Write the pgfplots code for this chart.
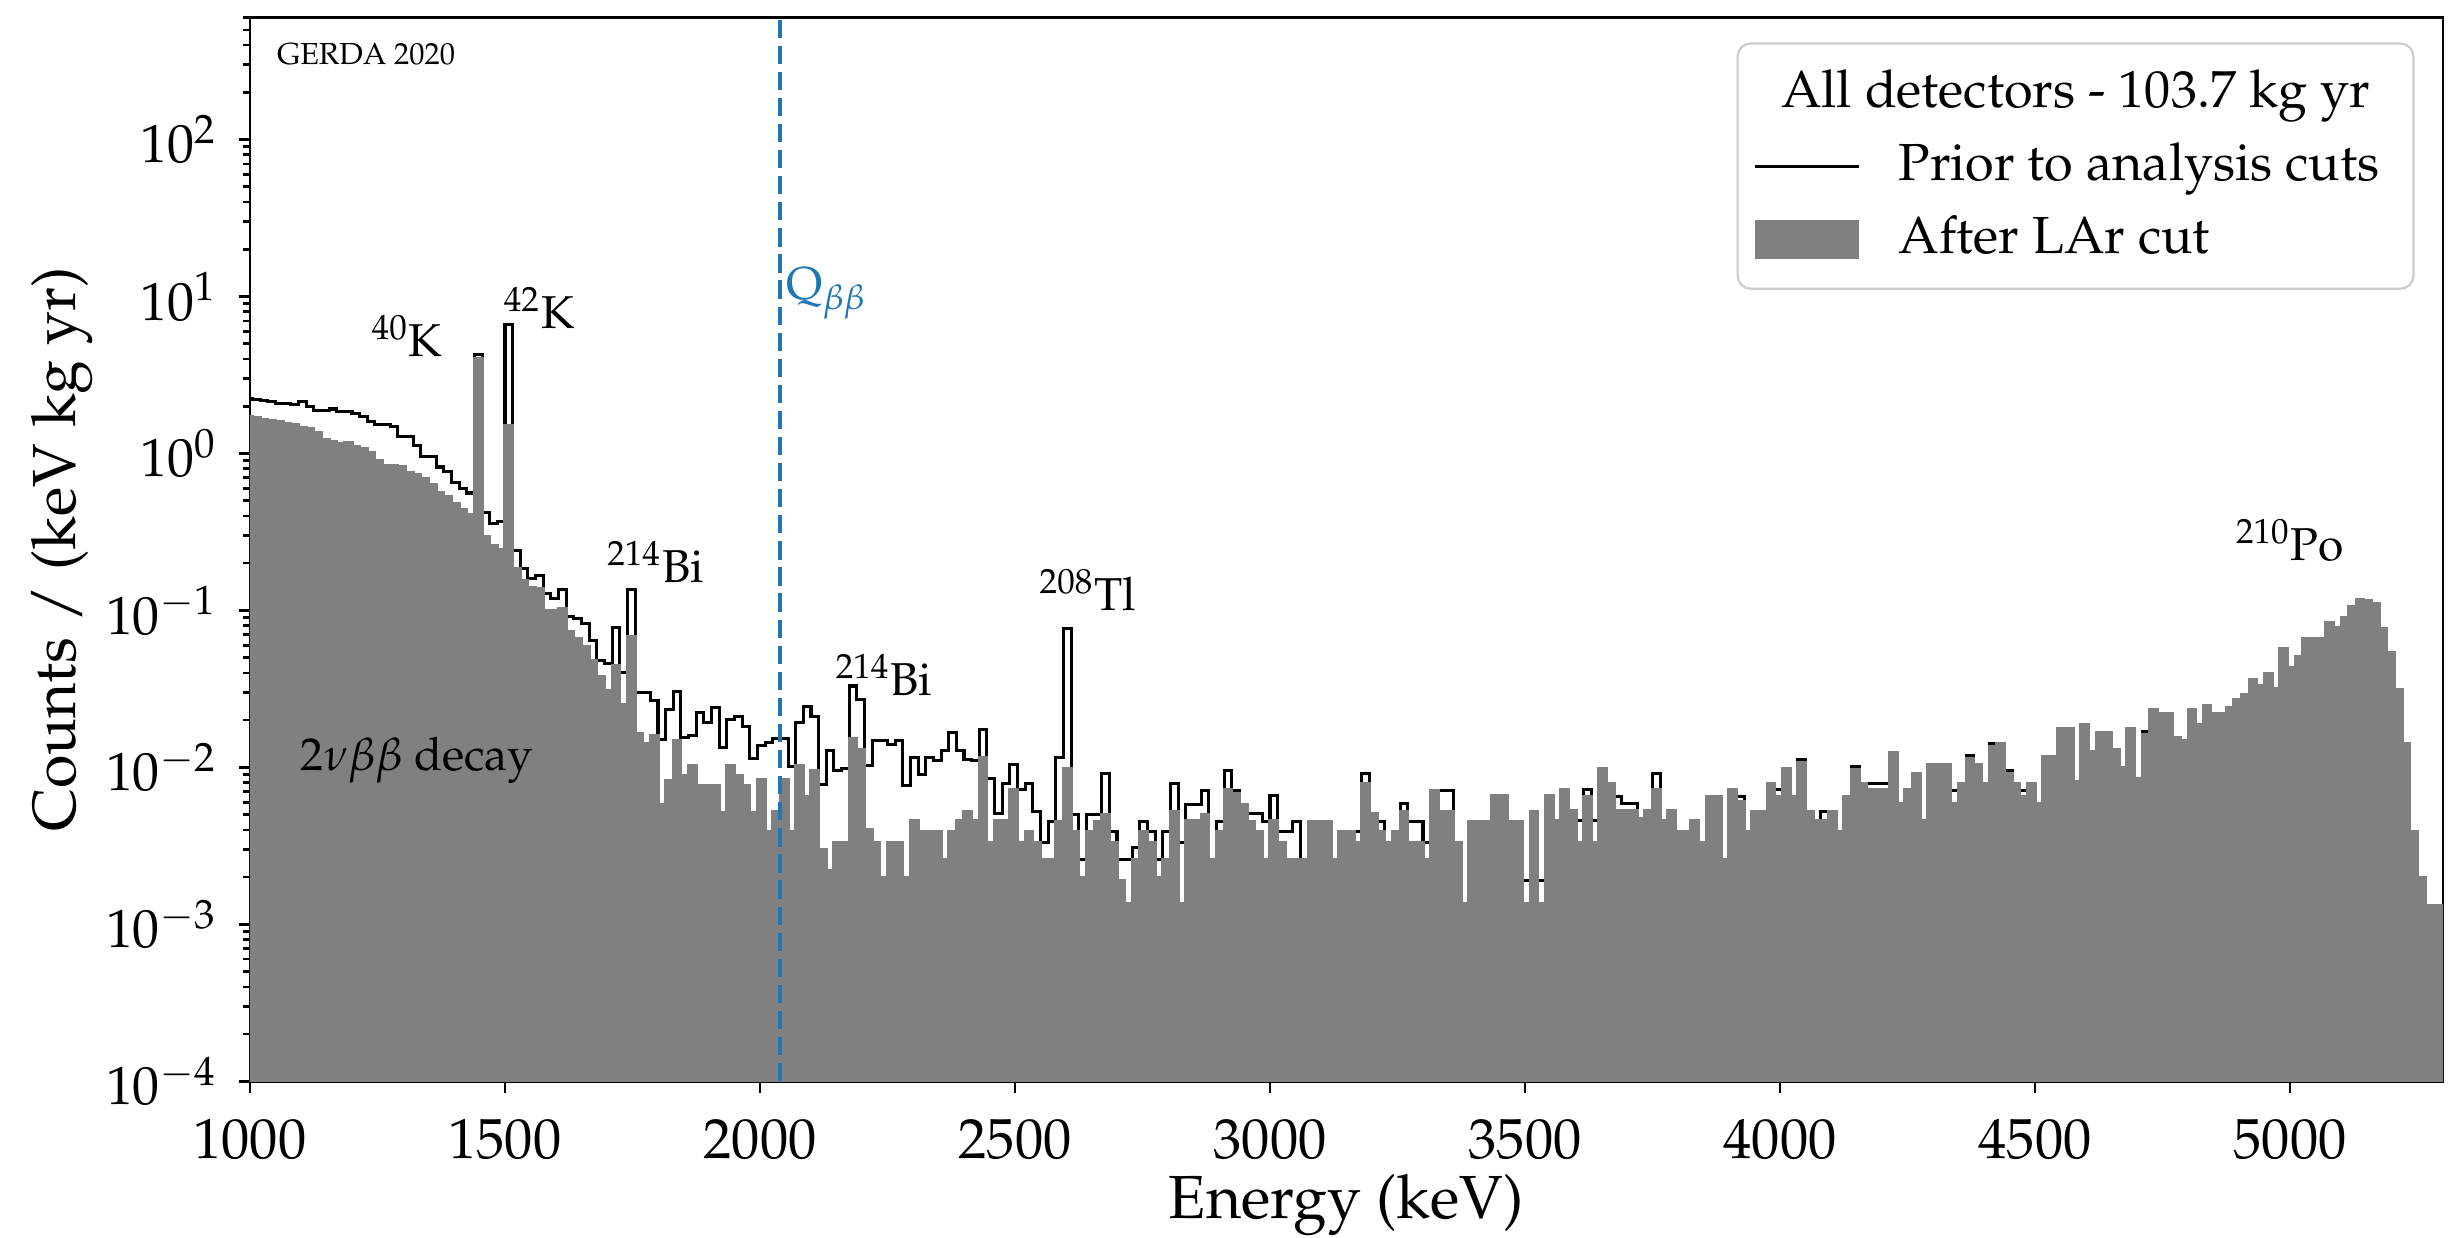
\documentclass[border=0pt]{standalone}
\usepackage[T1]{fontenc}
\usepackage{mathpazo}
\usepackage{pgfplots}
\pgfplotsset{compat=1.18}
\definecolor{qbb}{HTML}{1F77B4}
\definecolor{lar}{HTML}{808080}

% left bin edges (15 keV), counts / (keV kg yr)
\pgfplotstableread{
E B G
990 2.25 1.73
1005 2.22 1.70
1020 2.19 1.65
1035 2.14 1.62
1050 2.09 1.60
1065 2.09 1.56
1080 2.05 1.52
1095 2.14 1.46
1110 1.99 1.45
1125 1.89 1.36
1140 1.89 1.22
1155 1.92 1.19
1170 1.85 1.16
1185 1.85 1.17
1200 1.80 1.10
1215 1.73 1.07
1230 1.60 1.02
1245 1.52 0.90
1260 1.52 0.84
1275 1.48 0.84
1290 1.28 0.82
1305 1.28 0.76
1320 1.13 0.73
1335 0.96 0.69
1350 0.96 0.63
1365 0.82 0.56
1380 0.77 0.53
1395 0.65 0.48
1410 0.60 0.44
1425 0.56 0.41
1440 4.25 4.05
1455 0.42 0.295
1470 0.36 0.26
1485 0.37 0.243
1500 6.6 1.5
1515 0.24 0.185
1530 0.185 0.156
1545 0.16 0.14
1560 0.168 0.138
1575 0.128 0.100
1590 0.119 0.100
1605 0.136 0.103
1620 0.092 0.073
1635 0.089 0.066
1650 0.082 0.0586
1665 0.064 0.048
1680 0.048 0.0378
1695 0.046 0.0307
1710 0.078 0.0448
1725 0.040 0.0253
1740 0.136 0.068
1755 0.030 0.0164
1770 0.030 0.0142
1785 0.0268 0.016
1800 0.015 0.0058
1815 0.0233 0.0083
1830 0.0306 0.0149
1845 0.0156 0.0089
1860 0.016 0.0103
1875 0.0225 0.0077
1890 0.0192 0.0077
1905 0.024 0.0077
1920 0.0133 0.00515
1935 0.0202 0.0103
1950 0.021 0.0089
1965 0.0183 0.0077
1980 0.0114 0.00515
1995 0.0138 0.0084
2010 0.0145 0.0039
2025 0.0152 0.0052
2040 0.0152 0.0084
2055 0.0102 0.0039
2070 0.0192 0.0103
2085 0.0245 0.0065
2100 0.021 0.0096
2115 0.0078 0.0030
2130 0.0128 0.0022
2145 0.0095 0.0033
2160 0.0099 0.0033
2175 0.033 0.0152
2190 0.0271 0.013
2205 0.0103 0.0040
2220 0.0148 0.0033
2235 0.0148 0.0020
2250 0.0139 0.0033
2265 0.0148 0.0033
2280 0.0077 0.0020
2295 0.0116 0.0046
2310 0.0090 0.0039
2325 0.0116 0.0039
2340 0.0110 0.0039
2355 0.0128 0.0026
2370 0.0167 0.0039
2385 0.0128 0.0046
2400 0.0113 0.0052
2415 0.0110 0.0046
2430 0.0174 0.0116
2445 0.0085 0.0033
2460 0.0051 0.0046
2475 0.0079 0.0046
2490 0.0104 0.0072
2505 0.0072 0.0033
2520 0.0079 0.0039
2535 0.0052 0.0033
2550 0.0033 0.0026
2565 0.0045 0.0026
2580 0.0116 0.0045
2595 0.077 0.0098
2610 0.0050 0.0039
2625 0.0026 0.0020
2640 0.0050 0.0039
2655 0.0050 0.0045
2670 0.0091 0.0050
2685 0.0039 0.0033
2700 0.0026 0.0019
2715 0.0026 0.00135
2730 0.0031 0.0026
2745 0.0045 0.0039
2760 0.0039 0.0033
2775 0.0026 0.0020
2790 0.0039 0.0026
2805 0.0079 0.0052
2820 0.0033 0.00135
2835 0.0058 0.0046
2850 0.0058 0.0046
2865 0.0071 0.0050
2880 0.0026 0.0026
2895 0.0045 0.0039
2910 0.0096 0.0072
2925 0.0071 0.0068
2940 0.0058 0.0058
2955 0.0051 0.0045
2970 0.0051 0.0039
2985 0.0045 0.0026
3000 0.0066 0.0046
3015 0.0039 0.0033
3030 0.0039 0.0026
3045 0.0045 0.0026
3060 0.0026 0.0026
3075 0.0045 0.0045
3090 0.0045 0.0045
3105 0.0045 0.0045
3120 0.0026 0.0026
3135 0.0039 0.0039
3150 0.0039 0.0039
3165 0.0039 0.0033
3180 0.0091 0.0079
3195 0.0051 0.0051
3210 0.0045 0.0039
3225 0.0033 0.0033
3240 0.0039 0.0039
3255 0.0059 0.0052
3270 0.0045 0.0033
3285 0.0045 0.0033
3300 0.0033 0.0026
3315 0.0071 0.0071
3330 0.0071 0.0052
3345 0.0071 0.0052
3360 0.0033 0.0033
3375 0.00135 0.00135
3390 0.0045 0.0045
3405 0.0045 0.0045
3420 0.0045 0.0045
3435 0.0066 0.0066
3450 0.0066 0.0066
3465 0.0045 0.0045
3480 0.0045 0.0045
3495 0.0019 0.00135
3510 0.0052 0.0052
3525 0.0019 0.00135
3540 0.0066 0.0066
3555 0.0046 0.0046
3570 0.0072 0.0072
3585 0.0053 0.0053
3600 0.0046 0.0033
3615 0.0072 0.0065
3630 0.0046 0.0033
3645 0.0098 0.0098
3660 0.0079 0.0079
3675 0.0065 0.0053
3690 0.0059 0.0053
3705 0.0059 0.0053
3720 0.0047 0.0047
3735 0.0053 0.0053
3750 0.0091 0.0072
3765 0.0046 0.0046
3780 0.0053 0.0053
3795 0.0039 0.0039
3810 0.0039 0.0039
3825 0.0046 0.0046
3840 0.0033 0.0033
3855 0.0065 0.0065
3870 0.0065 0.0065
3885 0.0026 0.0026
3900 0.0072 0.0072
3915 0.0065 0.0061
3930 0.0039 0.0039
3945 0.0052 0.0052
3960 0.0052 0.0052
3975 0.0079 0.0079
3990 0.0072 0.0065
4005 0.0098 0.0098
4020 0.0065 0.0065
4035 0.0112 0.0108
4050 0.0052 0.0052
4065 0.0046 0.0046
4080 0.0052 0.0046
4095 0.0052 0.0052
4110 0.0039 0.0039
4125 0.0065 0.0065
4140 0.0101 0.0097
4155 0.0079 0.0079
4170 0.0079 0.0072
4185 0.0079 0.0072
4200 0.0079 0.0072
4215 0.0125 0.0125
4230 0.0059 0.0059
4245 0.0072 0.0072
4260 0.0091 0.0091
4275 0.0046 0.0046
4290 0.0104 0.0104
4305 0.0104 0.0104
4320 0.0104 0.0104
4335 0.0071 0.0059
4350 0.0079 0.0079
4365 0.0119 0.0114
4380 0.0104 0.0104
4395 0.0079 0.0079
4410 0.0141 0.0135
4425 0.0141 0.0141
4440 0.0096 0.0091
4455 0.0079 0.0079
4470 0.0071 0.0065
4485 0.0079 0.0079
4500 0.0059 0.0059
4515 0.0118 0.0118
4530 0.0118 0.0118
4545 0.0177 0.0177
4560 0.0177 0.0177
4575 0.0081 0.0081
4590 0.0187 0.0187
4605 0.0126 0.0126
4620 0.0167 0.0167
4635 0.0167 0.0167
4650 0.0130 0.0130
4665 0.0100 0.0100
4680 0.0177 0.0177
4695 0.0085 0.0085
4710 0.0170 0.0163
4725 0.0234 0.0234
4740 0.0221 0.0221
4755 0.0221 0.0221
4770 0.0154 0.0154
4785 0.0149 0.0149
4800 0.0234 0.0234
4815 0.0187 0.0187
4830 0.0247 0.0247
4845 0.0221 0.0221
4860 0.0221 0.0221
4875 0.0240 0.0240
4890 0.0269 0.0269
4905 0.0292 0.0292
4920 0.0362 0.0362
4935 0.0331 0.0331
4950 0.0398 0.0398
4965 0.0318 0.0318
4980 0.0572 0.0572
4995 0.0432 0.0432
5010 0.0511 0.0511
5025 0.0658 0.0658
5040 0.0658 0.0658
5055 0.0658 0.0658
5070 0.0837 0.0837
5085 0.0778 0.0778
5100 0.0895 0.0895
5115 0.106 0.106
5130 0.118 0.118
5145 0.115 0.115
5160 0.111 0.111
5175 0.0766 0.0766
5190 0.0541 0.0541
5205 0.0313 0.0313
5220 0.0141 0.0141
5235 0.0039 0.0039
5250 0.0020 0.0020
5265 0.00131 0.00131
5280 0.00131 0.00131
5295 0.00131 0.00131
5310 0.00131 0.00131
}\spectrum

\begin{document}
\begin{tikzpicture}
\begin{axis}[
    name=ax,
    width=504.4pt, height=244.7pt, scale only axis,
    xmin=1000, xmax=5300,
    ymode=log, ymin=1e-4, ymax=600,
    log origin y=infty,
    xtick={1000,1500,...,5000},
    scaled x ticks=false,
    /pgf/number format/1000 sep={},
    tick align=outside, tick pos=left,
    major tick length=2.6pt, minor tick length=1.5pt,
    every tick/.style={black, line width=0.6pt},
    axis line style={line width=0.6pt},
    xticklabel style={font=\fontsize{13}{15}\selectfont, anchor=base, yshift=-15.2pt},
    yticklabel style={font=\fontsize{12.4}{14}\selectfont, xshift=-1.5pt},
    label style={font=\fontsize{14}{16}\selectfont, inner sep=0pt},
    xlabel={Energy (keV)},
    ylabel={Counts / (keV kg yr)},
    xlabel style={at={(axis description cs:0.5,-0.1287)}, anchor=base},
    ylabel style={at={(axis description cs:-0.0856,0.5)}, anchor=center},
]
\addplot[black, line width=0.7pt, const plot] table[x=E, y=B] {\spectrum};
\addplot[fill=lar, draw=lar, line width=0.7pt, const plot] table[x=E, y=G] {\spectrum} \closedcycle;
\addplot[qbb, line width=1pt, dash pattern=on 4.2pt off 1.8pt] coordinates {(2039,1e-4) (2039,600)};

\node[font=\fontsize{7}{8.5}\selectfont, anchor=north west, inner sep=0pt] at (rel axis cs:0.012,0.976) {GERDA 2020};
\begin{scope}[every node/.style={font=\fontsize{10.6}{12.5}\selectfont, anchor=base}]
\node at (axis cs:1308,4.17) {$^{40}$K};
\node at (axis cs:1567,6.3) {$^{42}$K};
\node at (axis cs:1795,0.151) {$^{214}$Bi};
\node at (axis cs:2243,0.0288) {$^{214}$Bi};
\node at (axis cs:2643,0.1) {$^{208}$Tl};
\node at (axis cs:5000,0.209) {$^{210}$Po};
\node at (axis cs:1328,0.0095) {$2\nu\beta\beta$ decay};
\node[anchor=base west, inner sep=0pt, text=qbb] at (axis cs:2051,9.5) {Q$_{\beta\beta}$};
\end{scope}

\node[anchor=north east, draw=black!20, line width=0.5pt, rounded corners=3pt, fill=white,
      inner xsep=4pt, inner ysep=3pt, font=\fontsize{12}{14}\selectfont]
  at (rel axis cs:0.987,0.9765)
  {\renewcommand{\arraystretch}{1.2}%
   \begin{tabular}{@{}l@{\hspace{9pt}}l@{}}
   \multicolumn{2}{c}{All detectors - 103.7 kg yr}\\
   \rule[0.25em]{24pt}{0.7pt} & Prior to analysis cuts\\
   {\color{lar}\rule[-0.1em]{24pt}{9pt}} & After LAr cut
   \end{tabular}};
\end{axis}
\path ([xshift=-57.5pt,yshift=-36pt]ax.south west) rectangle ([xshift=2.3pt,yshift=4pt]ax.north east);
\end{tikzpicture}
\end{document}
